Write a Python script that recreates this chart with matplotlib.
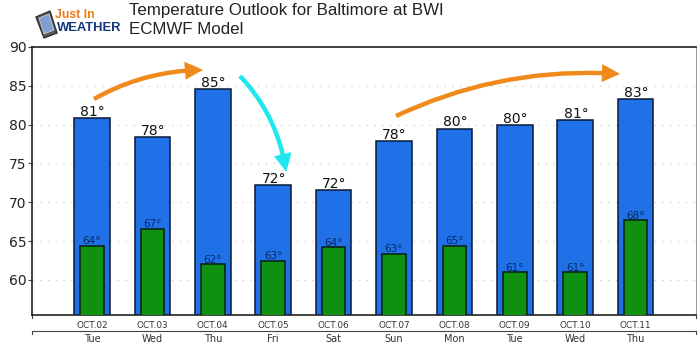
import matplotlib
matplotlib.use('Agg')
import matplotlib.pyplot as plt
from matplotlib.patches import FancyArrowPatch, Polygon

dates = ['OCT.02', 'OCT.03', 'OCT.04', 'OCT.05', 'OCT.06', 'OCT.07', 'OCT.08', 'OCT.09', 'OCT.10', 'OCT.11']
days = ['Tue', 'Wed', 'Thu', 'Fri', 'Sat', 'Sun', 'Mon', 'Tue', 'Wed', 'Thu']
highs = [80.8, 78.4, 84.6, 72.2, 71.6, 77.9, 79.5, 79.9, 80.6, 83.3]
lows = [64.4, 66.6, 62.0, 62.5, 64.2, 63.4, 64.4, 61.0, 61.0, 67.7]
high_labels = ['81°', '78°', '85°', '72°', '72°', '78°', '80°', '80°', '81°', '83°']
low_labels = ['64°', '67°', '62°', '63°', '64°', '63°', '65°', '61°', '61°', '68°']
yticks = [60, 65, 70, 75, 80, 85, 90]

W, H = 700, 351

def px(x, y):
    return (x / W, 1 - y / H)

fig = plt.figure(figsize=(7, 3.51), dpi=100)
ax = fig.add_axes([32 / W, 1 - 314.5 / H, 664 / W, 267.5 / H])

xs = list(range(len(dates)))
ax.bar(xs, highs, width=0.59, color='#2070e8', edgecolor='#0a1a33', linewidth=1.1, zorder=2)
ax.bar(xs, lows, width=0.39, color='#0f9010', edgecolor='#06200a', linewidth=1.1, zorder=3)
ax.set_xlim(-0.993, 10)
ax.set_ylim(55.55, 90)

ax.set_yticks(yticks)
ax.set_yticklabels([str(v) for v in yticks], fontsize=10, color='#222222')
ax.tick_params(axis='y', length=3, width=0.8, pad=1, color='#444444')
ax.yaxis.grid(True, linestyle=(0, (1, 6)), color='#c4c4c4', linewidth=0.8)
ax.set_axisbelow(True)

for s in ['left', 'top', 'bottom']:
    ax.spines[s].set_linewidth(1.2)
    ax.spines[s].set_color('#222222')
ax.spines['right'].set_linewidth(0.7)
ax.spines['right'].set_color('#999999')

# two rows of labels under the axis
ax.set_xticks(xs)
ax.set_xticklabels(dates, fontsize=6.4, color='#333333')
ax.tick_params(axis='x', length=0, pad=4.5)

xt = ax.get_xaxis_transform()
row2 = -16 / 267.5
tick = -3 / 267.5
ax.plot([-0.993, 10], [row2, row2], color='#444444', lw=0.8, transform=xt, clip_on=False)
for x in [-0.993, 10]:
    ax.plot([x, x], [0, tick], color='#444444', lw=0.8, transform=xt, clip_on=False)
    ax.plot([x, x], [row2, row2 + tick], color='#444444', lw=0.8, transform=xt, clip_on=False)
for i, d in enumerate(days):
    ax.plot([i, i], [row2, row2 + tick / 2], color='#999999', lw=0.5, transform=xt, clip_on=False)
    ax.text(i, -24.5 / 267.5, d, transform=xt, ha='center', va='center', fontsize=7, color='#333333')

for i in xs:
    ax.annotate(high_labels[i], (i, highs[i]), xytext=(0.5, -0.5), textcoords='offset points',
                ha='center', va='bottom', fontsize=10, color='#111111', zorder=5)
    ax.annotate(low_labels[i], (i, lows[i]), xytext=(0, -0.5), textcoords='offset points',
                ha='center', va='bottom', fontsize=7.5, color='#062a66', zorder=5)

# titles
fig.text(*px(129, 10), 'Temperature Outlook for Baltimore at BWI', fontsize=12.2, family='Liberation Sans',
         color='#222222', va='center')
fig.text(*px(129, 29), 'ECMWF Model', fontsize=12.2, family='Liberation Sans', color='#222222', va='center')

# logo
fig.add_artist(Polygon([px(36, 17), px(50, 11), px(57, 33), px(44, 38)], closed=True, transform=fig.transFigure,
                       facecolor='#555555', edgecolor='#333333', lw=1))
fig.add_artist(Polygon([px(39, 18), px(49, 14), px(54, 30), px(44, 34)], closed=True, transform=fig.transFigure,
                       facecolor='#7f9fd0', edgecolor='#dddddd', lw=0.5))
fig.text(*px(55, 15), 'Just In', fontsize=8.8, fontweight='bold', family='Liberation Sans',
         color='#f07a14', va='center')
fig.text(*px(57, 28), 'WEATHER', fontsize=9.4, fontweight='bold', family='Liberation Sans',
         color='#12387a', va='center')

# hand drawn arrows
arrows = [((94, 99), (203, 70), -0.13, '#f08a1d'),
          ((240, 76), (286, 172), -0.16, '#1ee8ee'),
          ((396, 116), (620, 74), -0.13, '#f08a1d')]
for a, b, rad, col in arrows:
    fig.add_artist(FancyArrowPatch(px(*a), px(*b), transform=fig.transFigure,
                                   connectionstyle='arc3,rad=%s' % rad,
                                   arrowstyle='simple,tail_width=0.32,head_width=1.3,head_length=1.3',
                                   mutation_scale=10, color=col, lw=0, shrinkA=0, shrinkB=0, zorder=10))

fig.savefig('out.png', dpi=100)
